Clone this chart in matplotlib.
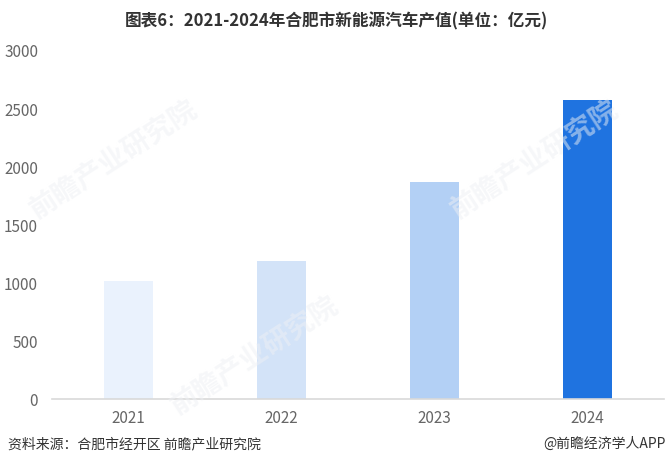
import matplotlib.pyplot as plt

plt.rcParams['font.family'] = ['Noto Sans CJK SC', 'DejaVu Sans']

# 数据
years = ["2021", "2022", "2023", "2024"]
values = [1020, 1195, 1873, 2580]
colors = ["#EAF2FD", "#D3E3F8", "#B3D0F5", "#1F73E0"]
y_ticks = [0, 500, 1000, 1500, 2000, 2500, 3000]

fig = plt.figure(figsize=(6.68, 4.67), dpi=100)
ax = fig.add_axes([52 / 668, 67.7 / 467, 612 / 668, 348.3 / 467])

x = range(len(years))
ax.bar(x, values, width=0.314, color=colors, zorder=2)

ax.set_xlim(-0.5, len(years) - 0.5)
ax.set_ylim(0, 3000)
ax.set_yticks(y_ticks)
ax.set_xticks(list(x))
ax.set_xticklabels(years)
ax.tick_params(axis="both", length=0, labelsize=11, labelcolor="#666666")
ax.tick_params(axis="x", pad=8)
ax.tick_params(axis="y", pad=10)

for s in ["top", "right", "left"]:
    ax.spines[s].set_visible(False)
ax.spines["bottom"].set_color("#d9d9d9")
ax.spines["bottom"].set_linewidth(1.2)

# 水印（很淡）
for wx, wy in [(0.17, 0.66), (0.38, 0.24), (0.8, 0.66)]:
    fig.text(wx, wy, "前瞻产业研究院", fontsize=20, fontweight="bold", color="#eef0f4",
             alpha=0.5, rotation=33, ha="center", va="center", zorder=0)

fig.text(0.503, 0.955, "图表6：2021-2024年合肥市新能源汽车产值(单位：亿元)",
         ha="center", va="center", fontsize=12, fontweight="bold", color="#333333")
fig.text(8 / 668, 1 - 444 / 467, "资料来源：合肥市经开区 前瞻产业研究院",
         ha="left", va="center", fontsize=10, color="#333333")
fig.text(666 / 668, 1 - 444 / 467, "@前瞻经济学人APP",
         ha="right", va="center", fontsize=10, color="#333333")

fig.savefig("out.png", dpi=100)
